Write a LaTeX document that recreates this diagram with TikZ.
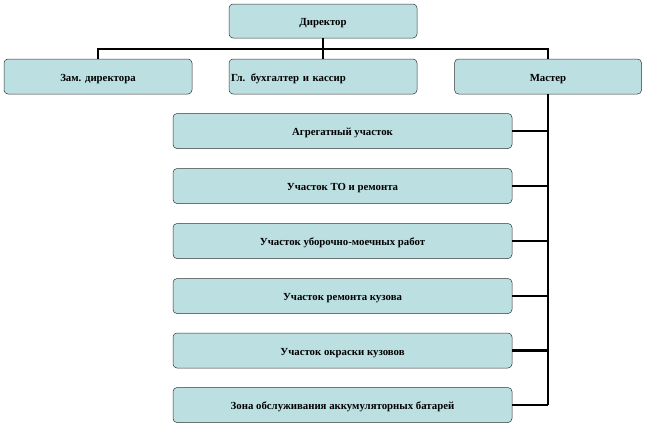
\documentclass[tikz,border=0pt]{standalone}
\usepackage{fontspec}
\setmainfont{Liberation Serif}
\definecolor{boxfill}{HTML}{BCE0E2}
\begin{document}
\begin{tikzpicture}[x=1pt,y=-1pt,
  box/.style={draw=black!80, line width=0.5pt, fill=boxfill, rounded corners=4pt, text height=9pt, text depth=0pt, font=\bfseries\fontsize{10.8}{12}\selectfont},
  link/.style={draw=black, line width=2.2pt}]
\useasboundingbox (0,0) rectangle (645,426);
\node[box, minimum width=188pt, minimum height=34pt] (dir) at (323,21) {Директор};
\node[box, minimum width=188pt, minimum height=35pt] (zam) at (98,76.5) {Зам. директора};
\node[box, minimum width=188pt, minimum height=35pt, text width=184pt, align=left, inner xsep=2pt] (buh) at (323,76.5) {Гл. бухгалтер и кассир};
\node[box, minimum width=187pt, minimum height=35pt] (mas) at (548,76.5) {Мастер};
\foreach \n/\y/\t in {u1/131/Агрегатный участок, u2/186/Участок ТО и ремонта, u3/241/Участок уборочно-моечных работ, u4/296/Участок ремонта кузова, u5/350.5/Участок окраски кузовов, u6/405/Зона обслуживания аккумуляторных батарей}{
  \node[box, minimum width=339pt, minimum height=35pt] (\n) at (342.5,\y) {\t};
}
\coordinate (bus) at (323,49);
\draw[link] (dir.south) -- (bus);
\draw[link] (zam.north) |- (bus);
\draw[link] (buh.north) -- (bus);
\draw[link] (mas.north) |- (bus);
\coordinate (vend) at (547,405);
\draw[link] (mas.south) -- (mas.south |- vend);
\foreach \n in {u1,u2,u3,u4,u5,u6}{
  \draw[link] (\n.east) -- (\n.east -| mas.south);
}
\end{tikzpicture}
\end{document}
